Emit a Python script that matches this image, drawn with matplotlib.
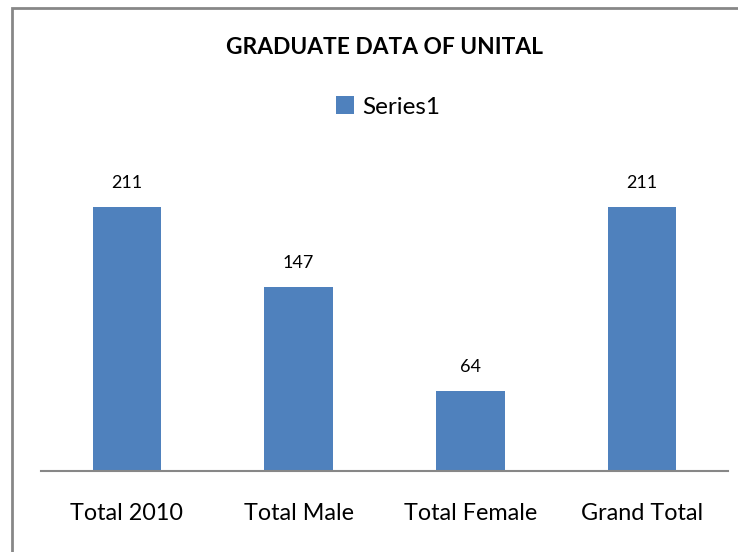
import matplotlib.pyplot as plt
from matplotlib.patches import Rectangle

categories = ['Total 2010', 'Total Male', 'Total Female', 'Grand Total']
values = [211, 147, 64, 211]
series_name = 'Series1'
title = 'GRADUATE DATA OF UNITAL'

W, H = 738, 552
plt.rcParams['font.family'] = ['Lato', 'DejaVu Sans']
fig = plt.figure(figsize=(W / 100, H / 100), dpi=100)

# outer chart border (cut off at right and bottom in the original)
fig.patches.append(Rectangle((12 / W, -0.05), 1.1, (H - 8) / H + 0.05,
                             transform=fig.transFigure, fill=False,
                             edgecolor='#878787', linewidth=2))

ax = fig.add_axes([41 / W, (H - 471) / H, (728 - 41) / W, (471 - 158) / H])
x = range(len(categories))
bars = ax.bar(x, values, width=0.4, color='#4f81bd', label=series_name)
ax.set_xlim(-0.5, len(categories) - 0.5)
ax.set_ylim(0, 250)

for b, v in zip(bars, values):
    ax.annotate(str(v), (b.get_x() + b.get_width() / 2, v),
                xytext=(0, 17), textcoords='offset points',
                ha='center', va='center', fontsize=13)

for s in ['top', 'right', 'left']:
    ax.spines[s].set_visible(False)
ax.spines['bottom'].set_color('#878787')
ax.spines['bottom'].set_linewidth(1.5)
ax.set_yticks([])
ax.set_xticks(list(x))
ax.set_xticklabels(categories, fontsize=16.8)
ax.tick_params(axis='x', length=0, pad=23)

fig.text(385 / W, 1 - 47 / H, title, ha='center', va='center',
         fontsize=16.4, fontweight='bold')
fig.legend(handles=[bars], labels=[series_name], loc='center',
           bbox_to_anchor=(388 / W, 1 - 107 / H), frameon=False,
           fontsize=17.5, handlelength=0.75, handleheight=0.75,
           handletextpad=0.3)

fig.savefig('out.png', dpi=100)
